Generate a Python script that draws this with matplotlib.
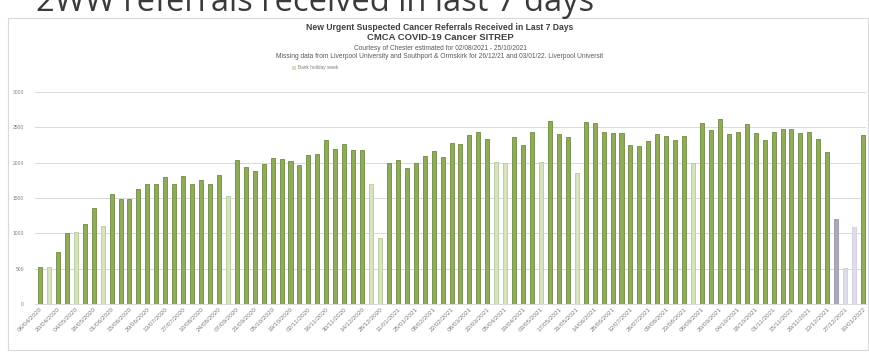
import matplotlib
matplotlib.use("Agg")
import matplotlib.pyplot as plt
from matplotlib.patches import Rectangle
import pandas as pd

# Weekly 2WW (urgent suspected cancer) referrals, week commencing
week_start = pd.date_range("2020-04-06", periods=93, freq="7D")
week_labels = [d.strftime("%d/%m/%Y") for d in week_start]

referrals = [
    530, 525, 740, 1000, 1025, 1135, 1365, 1105, 1560, 1490,
    1480, 1630, 1695, 1700, 1795, 1700, 1805, 1700, 1755, 1700,
    1825, 1535, 2040, 1945, 1885, 1980, 2070, 2050, 2030, 1970,
    2110, 2125, 2320, 2190, 2260, 2180, 2180, 1695, 930, 1995,
    2040, 1920, 1995, 2095, 2165, 2075, 2285, 2260, 2385, 2430,
    2330, 2015, 2000, 2370, 2245, 2430, 2015, 2595, 2405, 2370,
    1860, 2570, 2560, 2440, 2425, 2415, 2250, 2230, 2310, 2410,
    2380, 2325, 2380, 2000, 2560, 2465, 2615, 2410, 2440, 2550,
    2415, 2315, 2430, 2475, 2475, 2425, 2430, 2330, 2150, 1200,
    505, 1095, 2395,
]

bank_holiday_weeks = [
    "13/04/2020", "04/05/2020", "25/05/2020", "31/08/2020",
    "21/12/2020", "28/12/2020", "29/03/2021", "05/04/2021",
    "03/05/2021", "31/05/2021", "30/08/2021",
]
incomplete_weeks = ["20/12/2021"]
missing_data_weeks = ["27/12/2021", "03/01/2022"]

y_ticks = [0, 500, 1000, 1500, 2000, 2500, 3000]

GREEN = "#8fac5a"
GREEN_EDGE = "#6f8a40"
LIGHT_GREEN = "#d6e4bd"
LIGHT_EDGE = "#b9c99c"

fill_colors, edge_colors = [], []
for lab in week_labels:
    if lab in bank_holiday_weeks:
        fill_colors.append(LIGHT_GREEN); edge_colors.append(LIGHT_EDGE)
    elif lab in incomplete_weeks:
        fill_colors.append("#a9a9b8"); edge_colors.append("#9898a8")
    elif lab in missing_data_weeks:
        fill_colors.append("#dcdcea"); edge_colors.append("#cfcfe0")
    else:
        fill_colors.append(GREEN); edge_colors.append(GREEN_EDGE)

W, H = 870, 352
fig = plt.figure(figsize=(W / 100, H / 100), dpi=100)
fig.patch.set_facecolor("white")

def fx(px):
    return px / W

def fy(py):
    return 1 - py / H

# slide heading, partly above the top edge
fig.text(fx(36), fy(11), "2WW referrals received in last 7 days",
         fontsize=23.5, family="Open Sans", color="#3a3a3a", va="baseline", ha="left")

# chart frame
fig.patches.append(Rectangle((fx(8), fy(350)), fx(868) - fx(8), fy(18) - fy(350),
                             transform=fig.transFigure, fill=False,
                             edgecolor="#d9d9d9", linewidth=0.8))

cx = fx(440)
fig.text(cx, fy(27), "New Urgent Suspected Cancer Referrals Received in Last 7 Days",
         fontsize=6.2, fontweight="bold", color="#404040", ha="center", va="center",
         family="Liberation Sans")
fig.text(cx, fy(38), "CMCA COVID-19 Cancer SITREP",
         fontsize=6.8, fontweight="bold", color="#404040", ha="center", va="center",
         family="Liberation Sans")
fig.text(cx, fy(48), "Courtesy of Chester estimated for 02/08/2021 - 25/10/2021",
         fontsize=4.8, color="#595959", ha="center", va="center", family="Liberation Sans")
fig.text(cx, fy(57),
         "Missing data from Liverpool University and Southport & Ormskirk for 26/12/21 and 03/01/22. Liverpool Universit",
         fontsize=4.8, color="#595959", ha="center", va="center", family="Liberation Sans")

# key for lighter bars
fig.patches.append(Rectangle((fx(292), fy(70)), fx(4), fy(66) - fy(70),
                             transform=fig.transFigure, facecolor=LIGHT_GREEN,
                             edgecolor="none"))
fig.text(fx(298), fy(68), "Bank holiday week", fontsize=3.4, color="#7f7f7f",
         ha="left", va="center", family="Liberation Sans")

ax = fig.add_axes([fx(35), fy(304), fx(866) - fx(35), fy(92) - fy(304)])
x = list(range(len(referrals)))
ax.bar(x, referrals, width=0.45, color=fill_colors, edgecolor=edge_colors,
       linewidth=0.6, zorder=3)

ax.set_ylim(0, 3000)
ax.set_xlim(-0.56, len(referrals) - 0.67)
ax.set_yticks(y_ticks)
ax.set_yticklabels([str(v) for v in y_ticks], fontsize=3.6, color="#7f7f7f",
                   family="Liberation Sans")
ax.tick_params(axis="y", length=0, pad=8)
ax.grid(axis="y", color="#d9d9d9", linewidth=0.7, zorder=0)

tick_idx = x[::2]
ax.set_xticks(tick_idx)
ax.set_xticklabels([week_labels[i] for i in tick_idx], rotation=45, ha="right",
                   rotation_mode="anchor", fontsize=4.6, color="#7f7f7f",
                   family="Liberation Sans")
ax.tick_params(axis="x", length=0, pad=2)

for side in ("top", "right", "left"):
    ax.spines[side].set_visible(False)
ax.spines["bottom"].set_color("#d9d9d9")
ax.spines["bottom"].set_linewidth(0.7)

fig.savefig("out.png", dpi=100, facecolor="white")
